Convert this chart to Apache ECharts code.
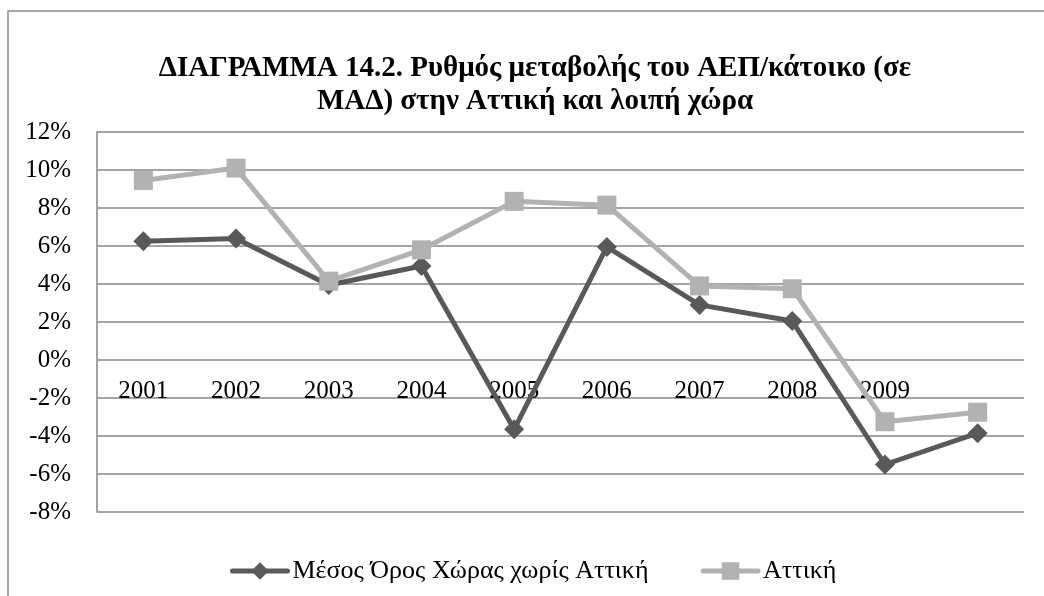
<!DOCTYPE html>
<html>
<head>
<meta charset="utf-8">
<script src="https://cdn.jsdelivr.net/npm/echarts@6/dist/echarts.min.js"></script>
<style>
  html, body { margin: 0; padding: 0; background: #ffffff; }
  #chart { width: 1044px; height: 596px; }
</style>
</head>
<body>
<div id="chart"></div>
<script>
// Years on the category axis (last point has no label)
const years = ['2001', '2002', '2003', '2004', '2005', '2006', '2007', '2008', '2009', ''];

// Growth rate of GDP per capita, in percent
const restOfCountry = [6.25, 6.4, 3.95, 4.95, -3.65, 5.95, 2.9, 2.05, -5.5, -3.85];
const attica = [9.45, 10.1, 4.15, 5.8, 8.35, 8.15, 3.9, 3.75, -3.25, -2.75];

const seriesNames = ['Μέσος Όρος Χώρας χωρίς Αττική', 'Αττική'];
const titleLines = [
  'ΔΙΑΓΡΑΜΜΑ 14.2. Ρυθμός μεταβολής του ΑΕΠ/κάτοικο (σε',
  'ΜΑΔ) στην Αττική και λοιπή χώρα'
];

const serif = '"Liberation Serif", "Times New Roman", serif';
const gridColor = '#878787';
const darkGrey = '#595959';
const lightGrey = '#b2b2b2';

const chart = echarts.init(document.getElementById('chart'), null, { renderer: 'canvas' });

// plot area: y from -8% (bottom) to 12% (top)
const plotTop = 132;
const plotBottom = 84;
const plotHeight = 596 - plotTop - plotBottom;
const yMin = -8, yMax = 12;
// shift the category axis so that it sits on the 0% line
const zeroOffset = -plotHeight * (0 - yMin) / (yMax - yMin);

chart.setOption({
  animation: false,
  backgroundColor: '#ffffff',
  graphic: [{
    type: 'rect',
    shape: { x: 8, y: 11, width: 1200, height: 800 },
    style: { fill: 'none', stroke: '#8a8a8a', lineWidth: 1.5 },
    silent: true,
    z: -10
  }],
  title: {
    text: titleLines.join('\n'),
    left: 530,
    top: 47,
    textAlign: 'center',
    textStyle: {
      fontFamily: serif,
      fontSize: 29,
      fontWeight: 'bold',
      color: '#000000',
      lineHeight: 33
    }
  },
  legend: {
    left: 225,
    top: 553,
    itemWidth: 55,
    itemHeight: 22,
    itemGap: 52,
    data: [
      { name: seriesNames[0], lineStyle: { width: 5, cap: 'round', color: darkGrey } },
      { name: seriesNames[1], lineStyle: { width: 5, cap: 'round', color: lightGrey } }
    ],
    textStyle: { fontFamily: serif, fontSize: 26, color: '#000000' }
  },
  grid: { left: 97, right: 20, top: plotTop, bottom: plotBottom, containLabel: false },
  xAxis: {
    type: 'category',
    data: years,
    boundaryGap: true,
    offset: zeroOffset,
    axisLine: { show: false, onZero: false },
    axisTick: { show: false },
    axisLabel: { fontFamily: serif, fontSize: 25, color: '#000000', margin: 19, interval: 0 },
    splitLine: { show: false }
  },
  yAxis: {
    type: 'value',
    min: yMin,
    max: yMax,
    interval: 2,
    axisLine: { show: true, lineStyle: { color: gridColor, width: 1.5 } },
    axisTick: { show: false },
    axisLabel: {
      fontFamily: serif,
      fontSize: 25,
      color: '#000000',
      margin: 26,
      formatter: v => v + '%'
    },
    splitLine: { show: true, lineStyle: { color: gridColor, width: 1.5 } }
  },
  series: [
    {
      name: seriesNames[0],
      type: 'line',
      data: restOfCountry,
      symbol: 'diamond',
      symbolSize: 20,
      lineStyle: { color: darkGrey, width: 5 },
      itemStyle: { color: darkGrey },
      z: 2
    },
    {
      name: seriesNames[1],
      type: 'line',
      data: attica,
      symbol: 'rect',
      symbolSize: 19,
      lineStyle: { color: lightGrey, width: 5 },
      itemStyle: { color: lightGrey },
      z: 3
    }
  ]
});
</script>
</body>
</html>
